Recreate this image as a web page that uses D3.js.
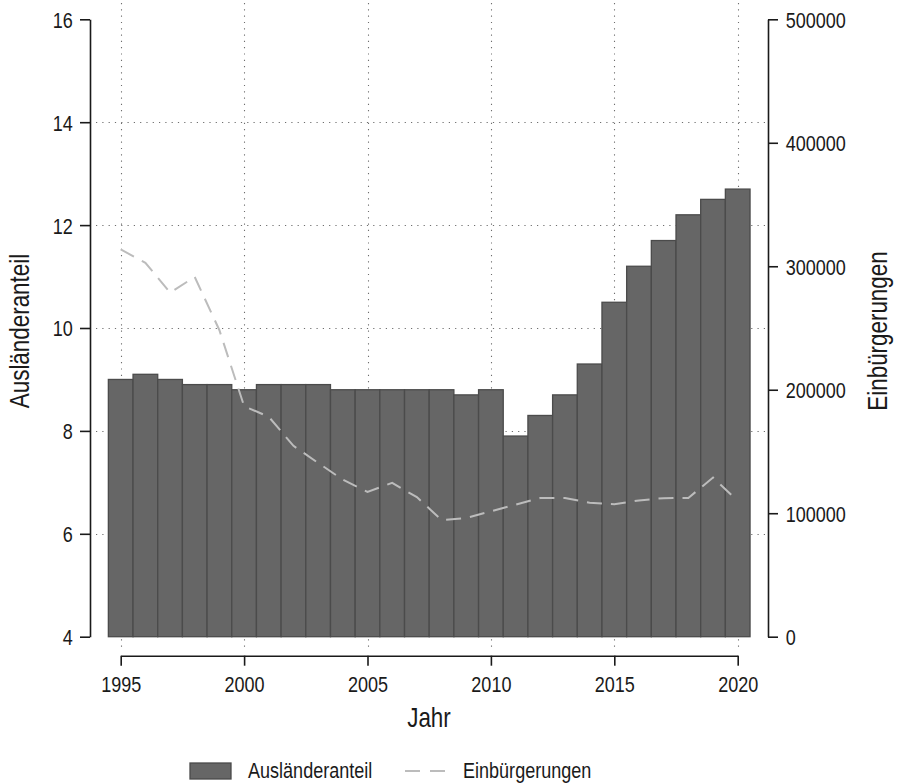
<!DOCTYPE html>
<html>
<head>
<meta charset="utf-8">
<script src="https://cdn.jsdelivr.net/npm/d3@7"></script>
<style>
  body { margin: 0; background: #fff; }
  svg { display: block; }
  text { font-family: "Liberation Sans", Arial, Helvetica, sans-serif; fill: #1a1a1a; }
</style>
</head>
<body>
<svg id="chart" width="898" height="784"></svg>
<script>
// Jahre
const years = [1995, 1996, 1997, 1998, 1999, 2000, 2001, 2002, 2003, 2004, 2005, 2006, 2007,
               2008, 2009, 2010, 2011, 2012, 2013, 2014, 2015, 2016, 2017, 2018, 2019, 2020];
// Ausländeranteil in Prozent (Balken, linke Achse)
const auslaenderanteil = [9.0, 9.1, 9.0, 8.9, 8.9, 8.8, 8.9, 8.9, 8.9, 8.8, 8.8, 8.8, 8.8,
                          8.8, 8.7, 8.8, 7.9, 8.3, 8.7, 9.3, 10.5, 11.2, 11.7, 12.2, 12.5, 12.7];
// Einbürgerungen pro Jahr (gestrichelte Linie, rechte Achse)
const einbuergerungen = [313606, 302830, 278662, 291331, 248206, 186688, 178098, 154547, 140731,
                         127153, 117241, 124566, 113030, 94470, 96122, 101570, 106897, 112348,
                         112353, 108422, 107317, 110383, 112211, 112340, 128905, 109880];
// Achsenbeschriftungen
const leftTicks = [4, 6, 8, 10, 12, 14, 16];
const rightTicks = [0, 100000, 200000, 300000, 400000, 500000];
const xTicks = [1995, 2000, 2005, 2010, 2015, 2020];
const gridLeft = [6, 8, 10, 12, 14];

const svg = d3.select("#chart");
const SX = 0.82;          // schmale Schrift
const tickFont = 22;
const titleFont = 27;

const x = d3.scaleLinear().domain([1995, 2020]).range([120.7, 737.7]);
const yL = d3.scaleLinear().domain([4, 16]).range([636.7, 19.3]);
const yR = d3.scaleLinear().domain([0, 500000]).range([636.7, 19.3]);

// Gitterlinien (gepunktet)
const grid = svg.append("g")
  .attr("stroke", "#6e6e6e").attr("stroke-width", 1.1)
  .attr("stroke-dasharray", "1.2,5.1").attr("fill", "none");
grid.selectAll("line.h").data(gridLeft).join("line")
  .attr("class", "h")
  .attr("x1", 96).attr("x2", 766)
  .attr("y1", d => Math.round(yL(d)) + 0.5).attr("y2", d => Math.round(yL(d)) + 0.5);
grid.selectAll("line.v").data(xTicks).join("line")
  .attr("class", "v")
  .attr("x1", d => Math.round(x(d)) + 0.5).attr("x2", d => Math.round(x(d)) + 0.5)
  .attr("y1", 3).attr("y2", 649);

// Balken
svg.append("g").selectAll("rect").data(years).join("rect")
  .attr("x", (d) => x(d - 0.5))
  .attr("width", (d) => x(d + 0.5) - x(d - 0.5))
  .attr("y", (d, i) => yL(auslaenderanteil[i]))
  .attr("height", (d, i) => yL(4) - yL(auslaenderanteil[i]))
  .attr("fill", "#666666")
  .attr("stroke", "#4b4b4b")
  .attr("stroke-width", 1.3);

// Linie
const line = d3.line()
  .x((d, i) => x(years[i]))
  .y(d => yR(d));
svg.append("path")
  .datum(einbuergerungen)
  .attr("d", line)
  .attr("fill", "none")
  .attr("stroke", "#bcbcbc")
  .attr("stroke-width", 2)
  .attr("stroke-dasharray", "15,9");

// Achsen
function styleAxis(g, tx, ty) {
  g.selectAll("path.domain").attr("stroke", "#1a1a1a").attr("stroke-width", 1.6);
  g.selectAll(".tick line").attr("stroke", "#1a1a1a").attr("stroke-width", 1.6);
  g.selectAll(".tick text")
    .attr("x", null).attr("y", null).attr("dy", null)
    .attr("font-size", tickFont)
    .attr("fill", "#1a1a1a")
    .attr("transform", `translate(${tx},${ty}) scale(${SX},1)`);
}

const axL = svg.append("g").attr("transform", "translate(90,0)")
  .call(d3.axisLeft(yL).tickValues(leftTicks).tickSize(10).tickSizeOuter(0).tickFormat(d3.format("d")));
styleAxis(axL, -17.3, 7.9);

const axR = svg.append("g").attr("transform", "translate(768,0)")
  .call(d3.axisRight(yR).tickValues(rightTicks).tickSize(10).tickSizeOuter(0).tickFormat(d3.format("d")));
styleAxis(axR, 17.7, 7.9);

const axB = svg.append("g").attr("transform", "translate(0,655.7)")
  .call(d3.axisBottom(x).tickValues(xTicks).tickSize(10).tickSizeOuter(0).tickFormat(d3.format("d")));
styleAxis(axB, 0, 36);
axL.selectAll("text").attr("font-family", null);
axR.selectAll("text").attr("font-family", null);
axB.selectAll("text").attr("font-family", null);
[axL, axR, axB].forEach(g => g.attr("font-family", null).attr("font-size", null));

// Achsentitel
svg.append("text")
  .attr("transform", `translate(29,331) rotate(-90) scale(${SX + 0.01},1)`)
  .attr("text-anchor", "middle").attr("font-size", titleFont)
  .text("Ausländeranteil");
svg.append("text")
  .attr("transform", `translate(887,331) rotate(-90) scale(${SX + 0.01},1)`)
  .attr("text-anchor", "middle").attr("font-size", titleFont)
  .text("Einbürgerungen");
svg.append("text")
  .attr("transform", `translate(429,727) scale(${SX + 0.01},1)`)
  .attr("text-anchor", "middle").attr("font-size", titleFont)
  .text("Jahr");

// Legende
const legend = svg.append("g");
legend.append("rect")
  .attr("x", 190).attr("y", 763).attr("width", 41).attr("height", 16)
  .attr("fill", "#666666").attr("stroke", "#4b4b4b").attr("stroke-width", 1.3);
legend.append("text")
  .attr("transform", `translate(248,778) scale(${SX},1)`)
  .attr("font-size", tickFont)
  .text("Ausländeranteil");
legend.append("line")
  .attr("x1", 405).attr("x2", 445).attr("y1", 771).attr("y2", 771)
  .attr("stroke", "#bcbcbc").attr("stroke-width", 2)
  .attr("stroke-dasharray", "15,10");
legend.append("text")
  .attr("transform", `translate(463,778) scale(${SX},1)`)
  .attr("font-size", tickFont)
  .text("Einbürgerungen");
</script>
</body>
</html>
